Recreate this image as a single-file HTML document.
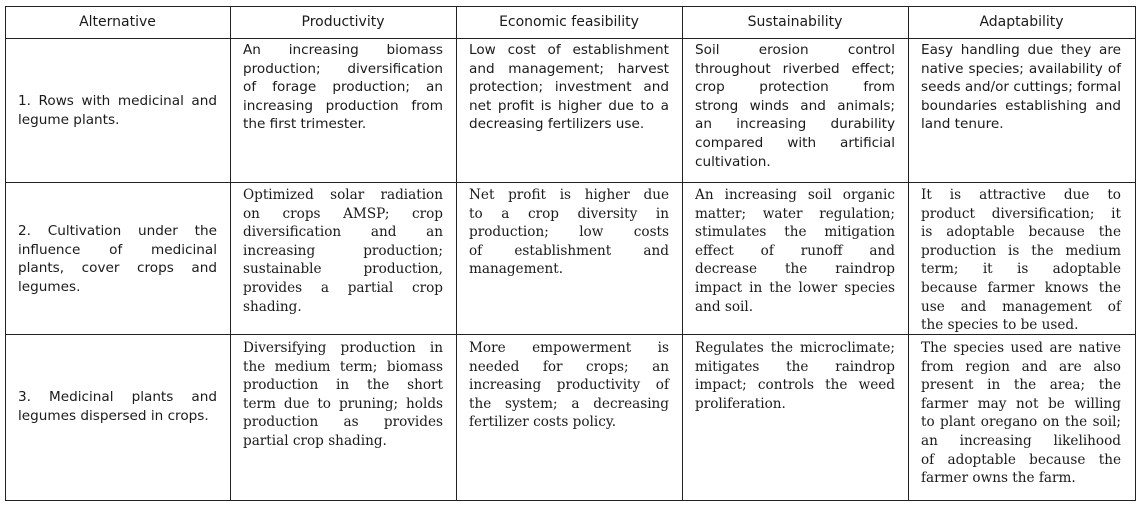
<!DOCTYPE html>
<html><head><meta charset="utf-8"><style>
body{margin:0;width:1140px;height:506px;background:#fff;position:relative;overflow:hidden;color:#1a1a1a}
.h{position:absolute;background:#222}
.c{position:absolute;font-size:14px;line-height:18.6px}
.s{font-family:"DejaVu Sans",sans-serif;font-size:13.6px}
.f{font-family:"DejaVu Serif",serif;font-size:13.6px}
.c span{display:block;white-space:nowrap}
.c span.j{text-align:justify;text-align-last:justify;white-space:normal}
.hd{position:absolute;top:6px;height:32px;line-height:32px;text-align:center;font-family:"DejaVu Sans",sans-serif;font-size:14px}
</style></head><body>
<div class="h" style="left:5px;top:6px;width:1131px;height:1px"></div>
<div class="h" style="left:5px;top:38px;width:1131px;height:1px"></div>
<div class="h" style="left:5px;top:182px;width:1131px;height:1px"></div>
<div class="h" style="left:5px;top:334px;width:1131px;height:1px"></div>
<div class="h" style="left:5px;top:500px;width:1131px;height:1px"></div>
<div class="h" style="left:5px;top:6px;width:1px;height:495px"></div>
<div class="h" style="left:230px;top:6px;width:1px;height:495px"></div>
<div class="h" style="left:456px;top:6px;width:1px;height:495px"></div>
<div class="h" style="left:682px;top:6px;width:1px;height:495px"></div>
<div class="h" style="left:908px;top:6px;width:1px;height:495px"></div>
<div class="h" style="left:1135px;top:6px;width:1px;height:495px"></div>

<div class="hd" style="left:5px;width:225px">Alternative</div>
<div class="hd" style="left:230px;width:226px">Productivity</div>
<div class="hd" style="left:456px;width:226px">Economic feasibility</div>
<div class="hd" style="left:682px;width:226px">Sustainability</div>
<div class="hd" style="left:908px;width:227px">Adaptability</div>

<div class="c s" style="left:18px;width:199px;top:92px"><span class="j">1. Rows with medicinal and</span><span>legume plants.</span></div>
<div class="c s" style="left:243px;width:200px;top:41px"><span class="j">An increasing biomass</span><span class="j">production; diversification</span><span class="j">of forage production; an</span><span class="j">increasing production from</span><span>the first trimester.</span></div>
<div class="c s" style="left:469px;width:200px;top:41px"><span class="j">Low cost of establishment</span><span class="j">and management; harvest</span><span class="j">protection; investment and</span><span class="j">net profit is higher due to a</span><span>decreasing fertilizers use.</span></div>
<div class="c s" style="left:695px;width:200px;top:41px"><span class="j">Soil erosion control</span><span class="j">throughout riverbed effect;</span><span class="j">crop protection from</span><span class="j">strong winds and animals;</span><span class="j">an increasing durability</span><span class="j">compared with artificial</span><span>cultivation.</span></div>
<div class="c s" style="left:921px;width:200px;top:41px"><span class="j">Easy handling due they are</span><span class="j">native species; availability of</span><span class="j">seeds and/or cuttings; formal</span><span class="j">boundaries establishing and</span><span>land tenure.</span></div>

<div class="c s" style="left:18px;width:199px;top:222px"><span class="j">2. Cultivation under the</span><span class="j">influence of medicinal</span><span class="j">plants, cover crops and</span><span>legumes.</span></div>
<div class="c f" style="left:243px;width:200px;top:186px"><span class="j">Optimized solar radiation</span><span class="j">on crops AMSP; crop</span><span class="j">diversification and an</span><span class="j">increasing production;</span><span class="j">sustainable production,</span><span class="j">provides a partial crop</span><span>shading.</span></div>
<div class="c f" style="left:469px;width:200px;top:186px"><span class="j">Net profit is higher due</span><span class="j">to a crop diversity in</span><span class="j">production; low costs</span><span class="j">of establishment and</span><span>management.</span></div>
<div class="c f" style="left:695px;width:200px;top:186px"><span class="j">An increasing soil organic</span><span class="j">matter; water regulation;</span><span class="j">stimulates the mitigation</span><span class="j">effect of runoff and</span><span class="j">decrease the raindrop</span><span class="j">impact in the lower species</span><span>and soil.</span></div>
<div class="c f" style="left:921px;width:200px;top:186px"><span class="j">It is attractive due to</span><span class="j">product diversification; it</span><span class="j">is adoptable because the</span><span class="j">production is the medium</span><span class="j">term; it is adoptable</span><span class="j">because farmer knows the</span><span class="j">use and management of</span><span>the species to be used.</span></div>

<div class="c s" style="left:18px;width:199px;top:388px"><span class="j">3. Medicinal plants and</span><span>legumes dispersed in crops.</span></div>
<div class="c f" style="left:243px;width:200px;top:339px"><span class="j">Diversifying production in</span><span class="j">the medium term; biomass</span><span class="j">production in the short</span><span class="j">term due to pruning; holds</span><span class="j">production as provides</span><span>partial crop shading.</span></div>
<div class="c f" style="left:469px;width:200px;top:339px"><span class="j">More empowerment is</span><span class="j">needed for crops; an</span><span class="j">increasing productivity of</span><span class="j">the system; a decreasing</span><span>fertilizer costs policy.</span></div>
<div class="c f" style="left:695px;width:200px;top:339px"><span class="j">Regulates the microclimate;</span><span class="j">mitigates the raindrop</span><span class="j">impact; controls the weed</span><span>proliferation.</span></div>
<div class="c f" style="left:921px;width:200px;top:339px"><span class="j">The species used are native</span><span class="j">from region and are also</span><span class="j">present in the area; the</span><span class="j">farmer may not be willing</span><span class="j">to plant oregano on the soil;</span><span class="j">an increasing likelihood</span><span class="j">of adoptable because the</span><span>farmer owns the farm.</span></div>
</body></html>
